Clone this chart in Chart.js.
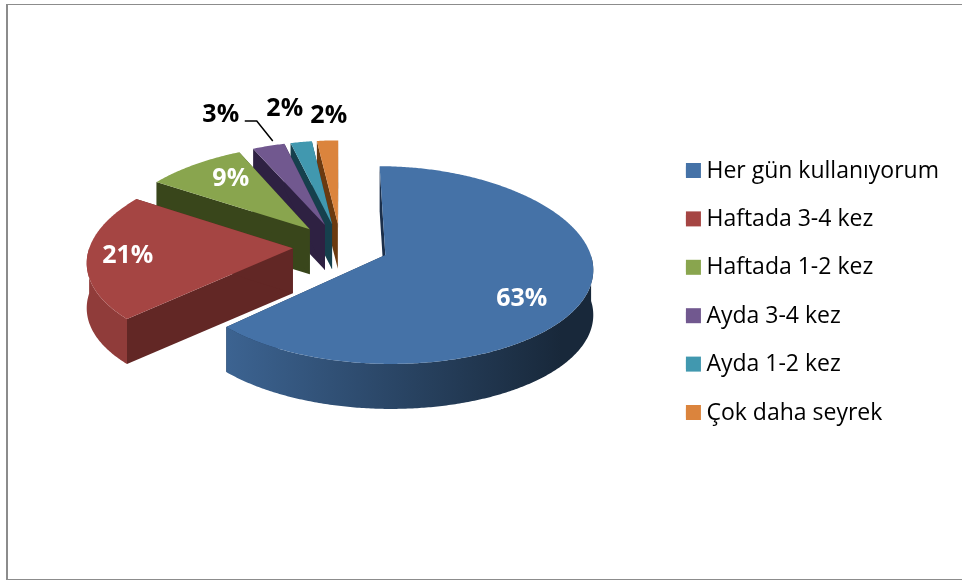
<!DOCTYPE html>
<html>
<head>
<meta charset="utf-8">
<style>
  html, body { margin: 0; padding: 0; background: #fff; }
  canvas { display: block; }
</style>
<script src="https://cdn.jsdelivr.net/npm/chart.js@4/dist/chart.umd.min.js"></script>
</head>
<body>
<canvas id="chart" width="962" height="580"></canvas>
<script>
const categories = ['Her gün kullanıyorum', 'Haftada 3-4 kez', 'Haftada 1-2 kez', 'Ayda 3-4 kez', 'Ayda 1-2 kez', 'Çok daha seyrek'];
const shares = [63, 21, 9, 3, 2, 2];
const topColors = ['#4572A7', '#A54543', '#89A54E', '#71588F', '#4198AF', '#DB843D'];
const wallColors = ['#1B2F4A', '#622725', '#39461B', '#2E2142', '#16404D', '#6B3A10'];

// text position of each percent label, relative to the pie centre
const labelSpots = [[181, 53], [-213, 10], [-110, -67], [-120, -131], [-56, -137], [-12, -130]];
const labelColors = ['#fff', '#fff', '#fff', '#000', '#000', '#000'];

const depth = 45;
const lift = 46;
const tilt = 0.473;

function darken(hex, f) {
    const n = parseInt(hex.slice(1), 16);
    const ch = s => Math.round(((n >> s) & 255) * f);
    return `rgb(${ch(16)},${ch(8)},${ch(0)})`;
}

// fake perspective: the back of the pie is a bit smaller than the front
function project(arc, angle, r) {
    const mid = (arc.startAngle + arc.endAngle) / 2;
    const off = arc.options.offset;
    const mx = off * Math.cos(mid) + r * Math.cos(angle);
    const my = off * Math.sin(mid) + r * Math.sin(angle);
    const t = my / arc.outerRadius;
    return {
        x: arc.x + mx * (1 + 0.13 * t),
        y: arc.y - lift + arc.outerRadius * tilt * t / (1 - 0.1 * t),
    };
}

function fillPoly(ctx, pts, fill) {
    ctx.beginPath();
    pts.forEach((p, i) => (i ? ctx.lineTo(p.x, p.y) : ctx.moveTo(p.x, p.y)));
    ctx.closePath();
    ctx.fillStyle = fill;
    ctx.fill();
}

function down(p) {
    return { x: p.x, y: p.y + depth };
}

function drawSlice(ctx, arc, i) {
    const R = arc.outerRadius;
    const rim = [];
    const front = [];
    const steps = Math.ceil((arc.endAngle - arc.startAngle) / 0.01);
    for (let s = 0; s <= steps; s++) {
        const a = arc.startAngle + (arc.endAngle - arc.startAngle) * s / steps;
        const p = project(arc, a, R);
        rim.push(p);
        if (Math.sin(a) >= 0) front.push(p); // only the near side of the rim shows
    }
    const apex = project(arc, 0, 0);
    const first = rim[0];
    const last = rim[rim.length - 1];

    fillPoly(ctx, [apex, first, down(first), down(apex)], wallColors[i]);
    fillPoly(ctx, [apex, last, down(last), down(apex)], wallColors[i]);

    if (front.length > 1) {
        const grad = ctx.createLinearGradient(arc.x - 113, 0, arc.x + 221, 0);
        grad.addColorStop(0, darken(topColors[i], 0.87));
        grad.addColorStop(1, darken(topColors[i], 0.35));
        fillPoly(ctx, front.concat(front.map(down).reverse()), grad);
    }

    fillPoly(ctx, [apex].concat(rim), topColors[i]);
}

const pie3d = {
    id: 'pie3d',
    beforeDraw(chart) {
        // frame runs off the right edge of the picture
        const ctx = chart.ctx;
        ctx.fillStyle = '#8c8c8c';
        ctx.fillRect(6, 4, chart.width - 6, 1);
        ctx.fillRect(6, 4, 2, chart.height - 5);
        ctx.fillRect(6, chart.height - 1, chart.width - 6, 1);
    },
    beforeDatasetsDraw(chart) {
        const ctx = chart.ctx;
        const arcs = chart.getDatasetMeta(0).data;
        ctx.save();
        for (let i = arcs.length - 1; i >= 0; i--) drawSlice(ctx, arcs[i], i);

        // leader line for the 3% label
        const cx = arcs[0].x;
        const cy = arcs[0].y - lift;
        ctx.strokeStyle = '#000';
        ctx.lineWidth = 1.5;
        ctx.beginPath();
        ctx.moveTo(cx - 96, cy - 125);
        ctx.lineTo(cx - 84, cy - 125);
        ctx.lineTo(cx - 68, cy - 105);
        ctx.stroke();

        ctx.font = 'bold 25px "Open Sans"';
        ctx.textAlign = 'center';
        ctx.textBaseline = 'middle';
        shares.forEach((v, i) => {
            ctx.fillStyle = labelColors[i];
            ctx.fillText(v + '%', cx + labelSpots[i][0], cy + labelSpots[i][1]);
        });
        ctx.restore();
        return false;
    },
    afterDraw(chart) {
        // square swatches, the legend's own box is kept narrow for the text gap
        const ctx = chart.ctx;
        chart.legend.legendHitBoxes.forEach((hb, i) => {
            ctx.fillStyle = topColors[i];
            ctx.fillRect(hb.left, hb.top + hb.height / 2 - 8, 15, 15);
        });
    },
};

new Chart(document.getElementById('chart'), {
    type: 'pie',
    data: {
        labels: categories,
        datasets: [{
            data: shares,
            backgroundColor: topColors,
            borderWidth: 0,
            offset: 48,
        }],
    },
    options: {
        responsive: false,
        animation: false,
        radius: 203,
        layout: { padding: { left: 21, right: 13, top: 4 } },
        plugins: {
            tooltip: { enabled: false },
            legend: {
                position: 'right',
                labels: {
                    color: '#000',
                    font: { family: 'Open Sans', size: 23 },
                    boxWidth: 9,
                    boxHeight: 9,
                    padding: 25.4,
                },
            },
        },
    },
    plugins: [pie3d],
});
</script>
</body>
</html>
